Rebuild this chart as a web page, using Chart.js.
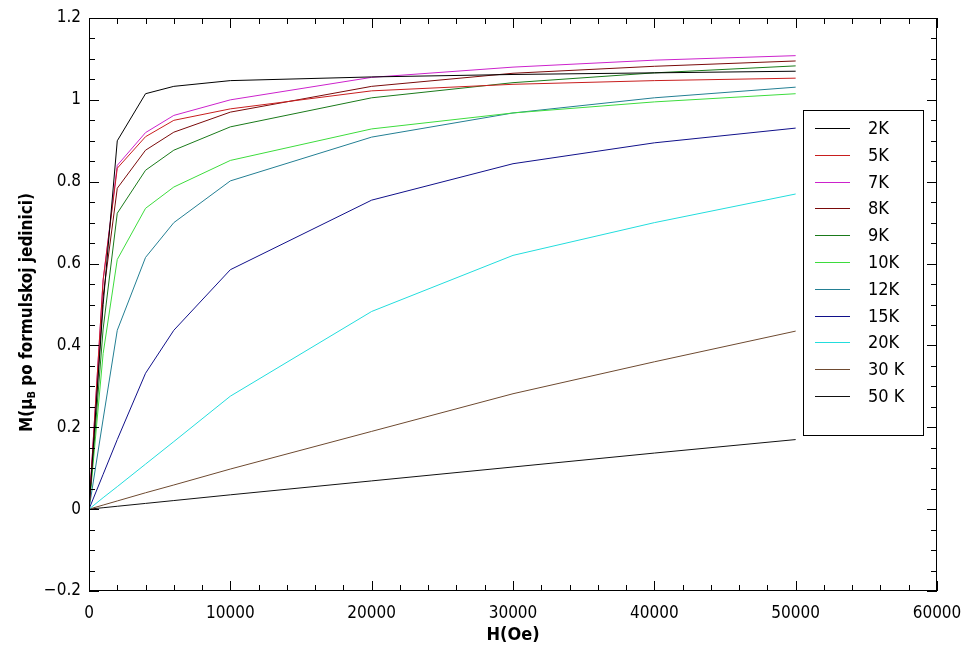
<!DOCTYPE html>
<html>
<head>
<meta charset="utf-8">
<script src="https://cdn.jsdelivr.net/npm/chart.js@4.4.0/dist/chart.umd.min.js"></script>
<style>
  html, body { margin: 0; padding: 0; background: #fff; }
  #wrap { width: 965px; height: 651px; }
</style>
</head>
<body>
<div id="wrap"><canvas id="mh"></canvas></div>
<script>
// field values (Oe) and magnetisation per temperature
const fieldOe = [0, 1000, 2000, 4000, 6000, 10000, 20000, 30000, 40000, 50000];
const m2K  = [0, 0.50, 0.900, 1.015, 1.033, 1.047, 1.056, 1.062, 1.066, 1.070];
const m5K  = [0, 0.56, 0.833, 0.910, 0.950, 0.978, 1.022, 1.038, 1.047, 1.053];
const m7K  = [0, 0.56, 0.840, 0.920, 0.962, 1.000, 1.055, 1.080, 1.097, 1.108];
const m8K  = [0, 0.52, 0.784, 0.877, 0.921, 0.970, 1.033, 1.065, 1.082, 1.095];
const m9K  = [0, 0.44, 0.723, 0.828, 0.877, 0.934, 1.005, 1.042, 1.066, 1.083];
const m10K = [0, 0.38, 0.610, 0.735, 0.787, 0.852, 0.929, 0.968, 0.995, 1.015];
const m12K = [0, 0.22, 0.437, 0.615, 0.700, 0.802, 0.909, 0.968, 1.005, 1.031];
const m15K = [0, 0.085, 0.170, 0.332, 0.437, 0.585, 0.755, 0.844, 0.895, 0.931];
const m20K = [0, 0.028, 0.055, 0.110, 0.165, 0.276, 0.483, 0.620, 0.700, 0.770];
const m30K = [0, 0.010, 0.020, 0.040, 0.059, 0.098, 0.190, 0.282, 0.360, 0.435];
const m50K = [0, 0.0035, 0.007, 0.014, 0.021, 0.035, 0.069, 0.103, 0.137, 0.170];

const seriesLabels = ['2K', '5K', '7K', '8K', '9K', '10K', '12K', '15K', '20K', '30 K', '50 K'];
const seriesValues = [m2K, m5K, m7K, m8K, m9K, m10K, m12K, m15K, m20K, m30K, m50K];
const seriesColors = ['#000000', '#c81e1e', '#cc22cc', '#7a0a0a', '#1a7a1a', '#3ddc3d',
                      '#237f93', '#10108a', '#22dddd', '#6e4a30', '#111111'];

const fontFam = "'DejaVu Sans Condensed', 'Liberation Sans', sans-serif";

const toPoints = (vals) => fieldOe.map((x, i) => ({ x: x, y: vals[i] }));

// inward ticks on all four sides + frame
const frameTicks = {
    id: 'frameTicks',
    afterDatasetsDraw(chart) {
        const { ctx, chartArea: a, scales } = chart;
        const xs = scales.x, ys = scales.y;
        ctx.save();
        ctx.strokeStyle = '#000';
        ctx.lineWidth = 1;
        ctx.strokeRect(a.left + 0.5, a.top + 0.5, a.right - a.left - 1, a.bottom - a.top - 1);
        ctx.beginPath();
        for (let v = 0; v <= 60000; v += 2000) {
            const px = Math.round(xs.getPixelForValue(v)) + 0.5;
            const len = v % 10000 === 0 ? 10 : 6;
            ctx.moveTo(px, a.bottom); ctx.lineTo(px, a.bottom - len);
            ctx.moveTo(px, a.top); ctx.lineTo(px, a.top + len);
        }
        for (let k = -4; k <= 24; k++) {
            const v = k * 0.05;
            const py = Math.round(ys.getPixelForValue(v)) + 0.5;
            const len = k % 4 === 0 ? 10 : 6;
            ctx.moveTo(a.left, py); ctx.lineTo(a.left + len, py);
            ctx.moveTo(a.right, py); ctx.lineTo(a.right - len, py);
        }
        ctx.stroke();
        ctx.restore();
    }
};

// boxed legend inside the plot area
const boxLegend = {
    id: 'boxLegend',
    afterDraw(chart) {
        const { ctx } = chart;
        const box = { x: 803, y: 110, w: 120, h: 325 };
        ctx.save();
        ctx.fillStyle = '#fff';
        ctx.fillRect(box.x, box.y, box.w, box.h);
        ctx.strokeStyle = '#000';
        ctx.lineWidth = 1;
        ctx.strokeRect(box.x + 0.5, box.y + 0.5, box.w, box.h);
        ctx.font = '18px ' + fontFam;
        ctx.textBaseline = 'middle';
        chart.data.datasets.forEach((ds, i) => {
            const y = Math.round(box.y + 18 + i * 26.8) + 0.5;
            ctx.strokeStyle = ds.borderColor;
            ctx.beginPath();
            ctx.moveTo(box.x + 12, y);
            ctx.lineTo(box.x + 47, y);
            ctx.stroke();
            ctx.fillStyle = '#000';
            ctx.fillText(ds.label, box.x + 65, y + 1);
        });
        ctx.restore();
    }
};

// y title with subscript B
const yTitle = {
    id: 'yTitle',
    afterDraw(chart) {
        const { ctx, chartArea: a } = chart;
        const parts = [
            { t: 'M(\u03bc', f: 'bold 17px ' + fontFam, dy: 0 },
            { t: 'B', f: 'bold 11px ' + fontFam, dy: 4 },
            { t: ' po formulskoj jedinici)', f: 'bold 17px ' + fontFam, dy: 0 }
        ];
        ctx.save();
        let total = 0;
        parts.forEach(p => { ctx.font = p.f; p.w = ctx.measureText(p.t).width; total += p.w; });
        ctx.translate(28, (a.top + a.bottom) / 2 + 8);
        ctx.rotate(-Math.PI / 2);
        ctx.fillStyle = '#000';
        ctx.textBaseline = 'middle';
        let x = -total / 2;
        parts.forEach(p => { ctx.font = p.f; ctx.fillText(p.t, x, p.dy); x += p.w; });
        ctx.restore();
    }
};

const datasets = seriesLabels.map((lab, i) => ({
    label: lab,
    data: toPoints(seriesValues[i]),
    borderColor: seriesColors[i],
    backgroundColor: seriesColors[i],
    borderWidth: 1,
    pointRadius: 0,
    tension: 0,
    fill: false
}));

new Chart(document.getElementById('mh'), {
    type: 'line',
    data: { datasets: datasets },
    options: {
        responsive: true,
        maintainAspectRatio: false,
        animation: false,
        layout: { padding: { top: 18, right: 28, left: 0, bottom: 0 } },
        plugins: { legend: { display: false }, tooltip: { enabled: false } },
        scales: {
            x: {
                type: 'linear',
                min: 0, max: 60000,
                afterFit: (s) => { s.height = 60; s.paddingLeft = 0; s.paddingRight = 0; },
                grid: { display: false, drawTicks: false },
                border: { display: false },
                ticks: {
                    stepSize: 10000, padding: 12, color: '#000', maxRotation: 0,
                    font: { family: fontFam, size: 17 },
                    callback: (v) => String(v)
                },
                title: {
                    display: true, text: 'H(Oe)', color: '#000',
                    font: { family: fontFam, size: 18, weight: 'bold' },
                    padding: { top: 0, bottom: 5 }
                }
            },
            y: {
                type: 'linear',
                min: -0.2, max: 1.2,
                afterFit: (s) => { s.width = 89; s.paddingTop = 0; s.paddingBottom = 0; },
                grid: { display: false, drawTicks: false },
                border: { display: false },
                ticks: {
                    stepSize: 0.2, padding: 8, color: '#000',
                    font: { family: fontFam, size: 17 },
                    callback: (v) => {
                        const r = Math.round(v * 10) / 10;
                        return r < 0 ? '\u2212' + Math.abs(r) : String(r);
                    }
                }
            }
        }
    },
    plugins: [frameTicks, boxLegend, yTitle]
});
</script>
</body>
</html>
